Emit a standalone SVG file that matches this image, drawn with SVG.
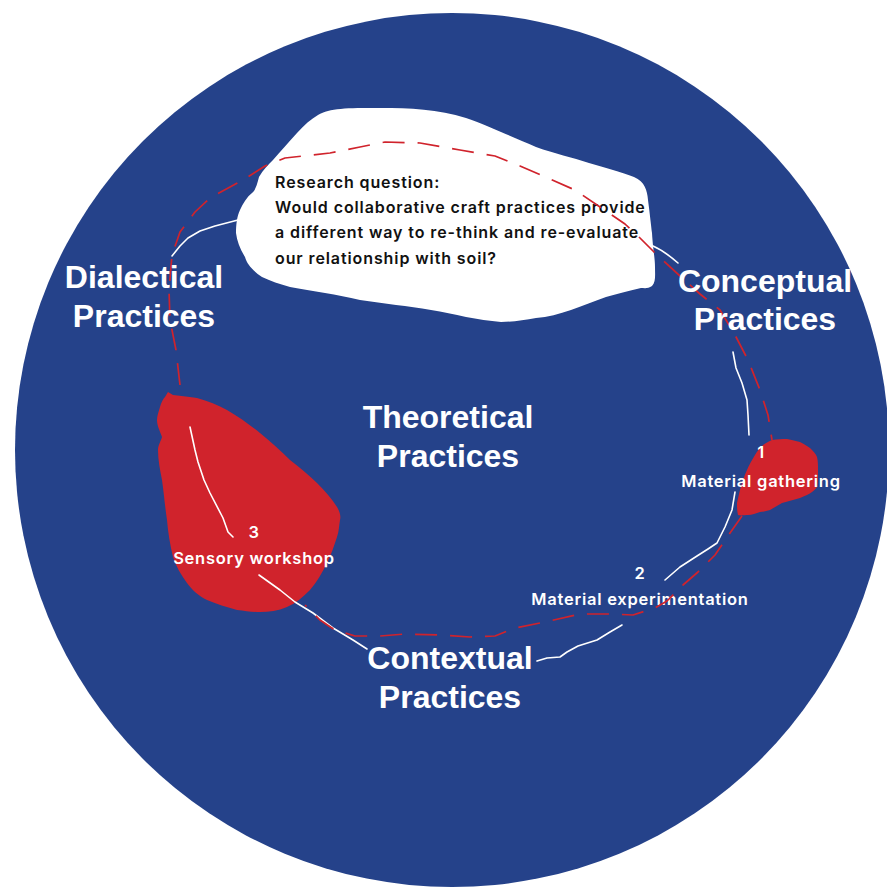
<svg xmlns="http://www.w3.org/2000/svg" width="887" height="887" viewBox="0 0 887 887">
<style>
.big{font-family:"Liberation Sans",Arial,sans-serif;font-weight:700;font-size:32px;fill:#fff;text-anchor:middle}
.small{font-family:Inter,"Open Sans",sans-serif;font-weight:600;font-size:16.5px;fill:#fff;text-anchor:middle;letter-spacing:0.75px}
.q{font-family:Inter,"Open Sans",sans-serif;font-weight:600;font-size:16px;fill:#111;letter-spacing:0.9px}
.blob{fill:#D0232C}
.wl{fill:none;stroke:#fff;stroke-width:1.6;stroke-linecap:round;stroke-linejoin:round}
.dash{fill:none;stroke:#D0232C;stroke-width:1.7;stroke-dasharray:22 13;stroke-linejoin:round}
</style>
<rect width="887" height="887" fill="#fff"/>
<circle cx="452" cy="450" r="437" fill="#25428A"/>

<g id="node-question">
<path fill="#fff" d="M318,115 C330,108 346,108 380,108 C410,108 438,109 466,118 C480,123 490,127 501,132 C515,138 525,142 536,147 C555,154 572,157 589,163 C605,168 622,172 634,177 C645,182 647,190 648,200 C650,215 651,225 652,233 C653,250 655,258 655,267 C655,275 656,282 652,286 C648,289 644,288 641,288 C628,291 617,294 606,297 C594,301 583,306 571,310 C559,314 548,317 536,318 C524,320 512,322 501,322 C489,321 478,319 466,317 C454,314 443,312 431,310 C419,308 408,306 396,305 C384,303 372,302 360,300 C348,297 337,295 325,293 C313,291 301,289 290,287 C280,284 270,281 262,277 C252,270 247,264 245,257 C240,249 237,241 236,233 C236,225 237,216 240,210 C243,203 247,197 252,193 C255,191 257,185 259,177 C263,170 268,165 273,160 C280,152 288,143 297,133 C304,125 311,119 318,115 Z"/>
<text class="q" x="275" y="188">Research question:</text>
<text class="q" x="275" y="213">Would collaborative craft practices provide</text>
<text class="q" x="275" y="238">a different way to re-think and re-evaluate</text>
<text class="q" x="275" y="264">our relationship with soil?</text>
</g>

<g id="node-3">
<path class="blob" d="M168,392 L173,395 C182,396 190,397 197,398 C208,401 218,405 227,410 C239,417 250,425 260,433 C271,442 281,451 290,460 C300,468 309,475 317,483 C325,491 332,499 337,507 C340,512 341,516 340,520 C339,526 339,531 337,537 C334,546 331,555 327,563 C322,573 317,582 310,590 C303,597 296,603 287,607 C278,611 269,612 260,612 C252,612 245,611 237,610 C227,607 216,604 207,600 C199,596 192,590 187,583 C181,575 176,566 173,557 C170,545 168,532 167,520 C165,507 164,494 162,480 C160,470 158,460 158,450 C158,445 161,441 162,437 C160,431 157,426 157,420 C157,415 159,411 160,407 C161,403 163,399 165,397 Z"/>
<text class="small" x="254" y="538">3</text>
<text class="small" x="254" y="564">Sensory workshop</text>
</g>

<g id="node-1">
<path class="blob" d="M772,440 C777,439 782,439 787,439 C792,440 796,441 800,442 C804,444 807,446 810,448 C813,451 816,454 817,457 C818,461 818,465 818,470 C818,476 818,482 817,487 C814,491 811,493 807,495 C802,497 798,499 793,500 C789,501 786,502 782,503 C778,505 774,508 770,510 C767,511 763,512 760,512 C756,513 752,515 748,515 C745,515 741,516 738,515 C737,511 737,507 737,503 C738,498 739,494 740,490 C742,483 744,476 747,470 C749,465 752,460 755,455 C757,451 760,448 763,445 C766,443 769,441 772,440 Z"/>
<text class="small" x="761" y="458">1</text>
<text class="small" x="761" y="487">Material gathering</text>
</g>

<g id="node-2">
<text class="small" x="640" y="579">2</text>
<text class="small" x="640" y="605">Material experimentation</text>
</g>

<g id="connectors">
<path class="wl" d="M238,220 L215,226 L200,231 L188,238 L180,246 L172,256"/>
<path class="wl" d="M653,246 C662,250 670,256 678,263"/>
<path class="wl" d="M733,352 L736,368 L742,383 L747,400 L748,415 L749,435"/>
<path class="wl" d="M735,492 L732,510 L725,527 L717,543 L708,549 L697,556 L680,567 L665,580"/>
<path class="wl" d="M622,625 L610,632 L597,640 L578,646 L567,652 L560,657 L547,658 L537,661"/>
<path class="wl" d="M259,575 L280,590 L295,602 L313,613 L333,628 L353,640 L367,649"/>
<path class="wl" d="M190,427 L195,450 L198,462 L204,480 L210,493 L223,518 L228,532 L233,537"/>
<path class="dash" d="M180,385 L176,350 L170,320 L169,290 L172,255 L180,232 L195,212 L210,198 L243,180 L265,166 L285,158 L330,153 L360,147 L385,142 L420,143 L460,150 L495,156 L520,166 L550,179 L575,190 L600,207 L625,224 L640,238 L655,253 L680,276 L700,294 L720,310 L735,335 L748,360 L760,390 L768,415 L772,440"/>
<path class="dash" d="M742,516 L730,533 L715,555 L698,572 L683,585 L667,601 L655,608 L633,615 L610,614 L580,614 L545,622 L515,628 L495,636 L470,637 L440,635 L405,634 L380,636 L355,636 L335,630 L320,620 L305,605"/>
</g>

<g id="node-dialectical">
<text class="big" x="144" y="288">Dialectical</text>
<text class="big" x="144" y="327">Practices</text>
</g>
<g id="node-conceptual">
<text class="big" x="765" y="292">Conceptual</text>
<text class="big" x="765" y="330">Practices</text>
</g>
<g id="node-theoretical">
<text class="big" x="448" y="428">Theoretical</text>
<text class="big" x="448" y="467">Practices</text>
</g>
<g id="node-contextual">
<text class="big" x="450" y="669">Contextual</text>
<text class="big" x="450" y="708">Practices</text>
</g>
</svg>
